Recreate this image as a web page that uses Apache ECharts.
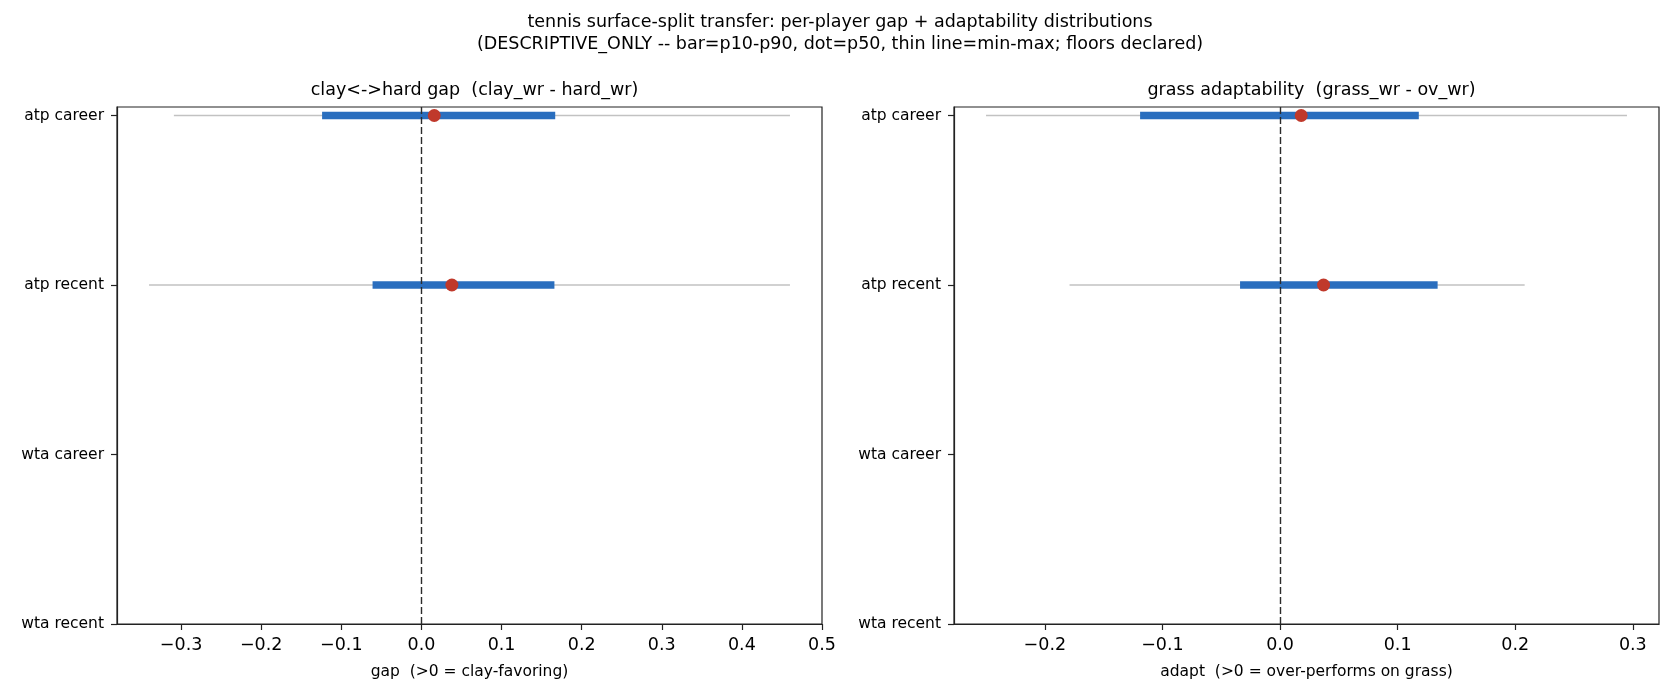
<!DOCTYPE html>
<html>
<head>
<meta charset="utf-8">
<title>tennis surface-split transfer</title>
<script src="https://cdn.jsdelivr.net/npm/echarts@6/dist/echarts.min.js"></script>
<style>
  html, body { margin: 0; padding: 0; background: #fff; }
  #chart { width: 1680px; height: 700px; }
</style>
</head>
<body>
<div id="chart"></div>
<script>
// rows on the y axis, top to bottom (wta rows have no data)
var rows = ['atp career', 'atp recent', 'wta career', 'wta recent']

// clay<->hard gap  (clay_wr - hard_wr)
var gapMin = [-0.309, -0.340]
var gapP10 = [-0.124, -0.061]
var gapP50 = [0.016, 0.038]
var gapP90 = [0.167, 0.166]
var gapMax = [0.460, 0.460]

// grass adaptability  (grass_wr - ov_wr)
var adMin = [-0.250, -0.179]
var adP10 = [-0.119, -0.034]
var adP50 = [0.018, 0.037]
var adP90 = [0.118, 0.134]
var adMax = [0.295, 0.208]

// tick labels
var gapTicks = [-0.3, -0.2, -0.1, 0, 0.1, 0.2, 0.3, 0.4, 0.5]
var adTicks = [-0.2, -0.1, 0, 0.1, 0.2, 0.3]

var FONT = 'DejaVu Sans'
var BLUE = '#2a6ebe'
var RED = '#c0392b'
var GREY = '#c2c2c2'

function fmtTick(v) {
    var s = Math.abs(v).toFixed(1)
    return v < 0 ? '\u2212' + s : s
}

/* horizontal segment drawn through the axes' own scales */
function segRenderer(color, width) {
    return function (params, api) {
        var a = api.coord([api.value(0), api.value(2)])
        var b = api.coord([api.value(1), api.value(2)])
        return {
            type: 'line',
            shape: { x1: a[0], y1: a[1], x2: b[0], y2: b[1] },
            style: { stroke: color, lineWidth: width, lineCap: 'butt' }
        }
    }
}

function pairs(lo, hi) {
    return lo.map(function (v, i) { return [v, hi[i], i] })
}

function xAxisFor(idx, min, max, ticks, name) {
    return {
        type: 'value',
        gridIndex: idx,
        min: min,
        max: max,
        name: name,
        nameLocation: 'middle',
        nameGap: 40,
        nameTextStyle: { fontFamily: FONT, fontSize: 15.5, color: '#000' },
        axisLine: { show: true, onZero: false, lineStyle: { color: '#222', width: 1.2 } },
        axisTick: { show: true, customValues: ticks, length: 6, lineStyle: { color: '#222', width: 1.2 } },
        axisLabel: {
            customValues: ticks, margin: 12, formatter: fmtTick,
            fontFamily: FONT, fontSize: 17.5, color: '#000'
        },
        splitLine: { show: false }
    }
}

function yAxisFor(idx) {
    return {
        type: 'value',
        gridIndex: idx,
        min: -0.05,
        max: 3,
        inverse: true,
        axisLine: { show: true, onZero: false, lineStyle: { color: '#222', width: 1.2 } },
        axisTick: { show: true, customValues: [0, 1, 2, 3], length: 6, lineStyle: { color: '#222', width: 1.2 } },
        axisLabel: {
            customValues: [0, 1, 2, 3], margin: 13,
            formatter: function (v) { return rows[Math.round(v)] },
            fontFamily: FONT, fontSize: 15.5, color: '#000'
        },
        splitLine: { show: false }
    }
}

function panelSeries(idx, mins, p10, p50, p90, maxs) {
    return [{
        type: 'custom',
        xAxisIndex: idx, yAxisIndex: idx,
        renderItem: segRenderer(GREY, 1.5),
        encode: { x: [0, 1], y: 2 },
        data: pairs(mins, maxs),
        z: 2, silent: true
    }, {
        type: 'custom',
        xAxisIndex: idx, yAxisIndex: idx,
        renderItem: segRenderer(BLUE, 7.5),
        encode: { x: [0, 1], y: 2 },
        data: pairs(p10, p90),
        z: 3, silent: true
    }, {
        // dashed zero line
        type: 'scatter',
        xAxisIndex: idx, yAxisIndex: idx,
        data: [],
        z: 4, silent: true,
        markLine: {
            symbol: 'none', silent: true, animation: false,
            label: { show: false },
            lineStyle: { color: '#2b2b2b', width: 1.4, type: [7, 3] },
            data: [{ xAxis: 0 }]
        }
    }, {
        type: 'scatter',
        xAxisIndex: idx, yAxisIndex: idx,
        data: p50.map(function (v, i) { return [v, i] }),
        symbol: 'circle', symbolSize: 13,
        itemStyle: { color: RED, opacity: 1 },
        z: 5, silent: true
    }]
}

var mychart = echarts.init(document.getElementById('chart'), null, { renderer: 'canvas' })

var option = {
    backgroundColor: '#fff',
    animation: false,
    title: [{
        text: 'tennis surface-split transfer: per-player gap + adaptability distributions\n(DESCRIPTIVE_ONLY -- bar=p10-p90, dot=p50, thin line=min-max; floors declared)',
        left: 'center', top: 7,
        textStyle: { fontFamily: FONT, fontSize: 17.5, fontWeight: 'normal', color: '#000', lineHeight: 21.5 }
    }, {
        text: 'clay<->hard gap  (clay_wr - hard_wr)',
        left: 469.5, top: 76, textAlign: 'center',
        textStyle: { fontFamily: FONT, fontSize: 17.5, fontWeight: 'normal', color: '#000' }
    }, {
        text: 'grass adaptability  (grass_wr - ov_wr)',
        left: 1306.5, top: 76, textAlign: 'center',
        textStyle: { fontFamily: FONT, fontSize: 17.5, fontWeight: 'normal', color: '#000' }
    }],
    grid: [
        { left: 117, right: 858, top: 107, bottom: 76, show: true, borderColor: '#222', borderWidth: 1.2, backgroundColor: 'transparent' },
        { left: 954, right: 21, top: 107, bottom: 76, show: true, borderColor: '#222', borderWidth: 1.2, backgroundColor: 'transparent' }
    ],
    xAxis: [
        xAxisFor(0, -0.38, 0.50, gapTicks, 'gap  (>0 = clay-favoring)'),
        xAxisFor(1, -0.27725, 0.32225, adTicks, 'adapt  (>0 = over-performs on grass)')
    ],
    yAxis: [yAxisFor(0), yAxisFor(1)],
    series: panelSeries(0, gapMin, gapP10, gapP50, gapP90, gapMax)
        .concat(panelSeries(1, adMin, adP10, adP50, adP90, adMax))
}

mychart.setOption(option)
</script>
</body>
</html>
